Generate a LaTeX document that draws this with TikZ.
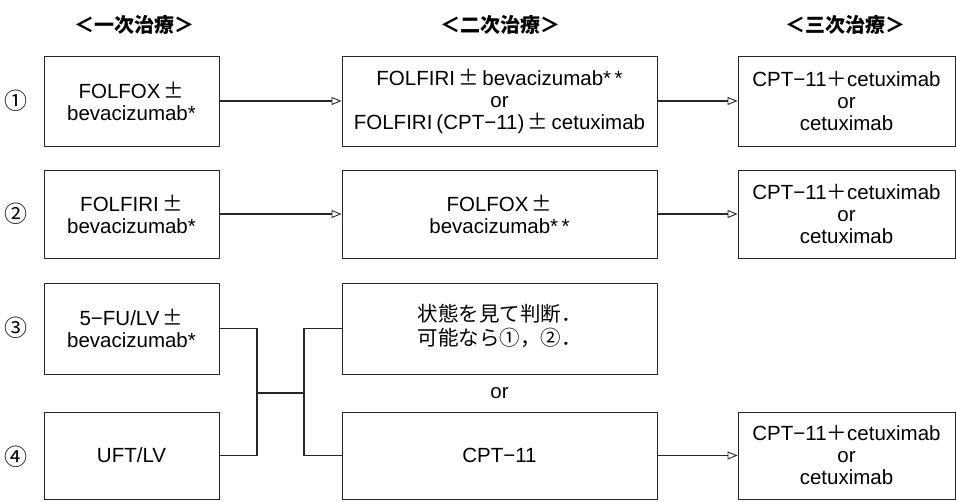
\documentclass[tikz,border=0pt]{standalone}
\usepackage{fontspec}
\setmainfont{Liberation Sans}
\newfontfamily\cjk{Noto Sans CJK JP}
\usetikzlibrary{arrows.meta}
\newcommand{\pmj}{{\cjk ±}}
\begin{document}
\begin{tikzpicture}[x=1pt,y=-1pt,
  box/.style={draw=black!85,line width=0.9pt,rectangle,inner sep=0pt,align=center,
    font=\fontsize{20.5}{22}\selectfont},
  colA/.style={box,minimum width=175pt},
  colB/.style={box,minimum width=315pt},
  colC/.style={box,minimum width=217pt},
  conn/.style={draw=black!85,line width=1.2pt},
  arr/.style={conn,-{Triangle[open,length=10pt,width=8pt,line width=0.9pt]}},
  hdr/.style={font=\cjk\bfseries\fontsize{20}{22}\selectfont},
  num/.style={font=\cjk\fontsize{23}{24}\selectfont},
  lbl/.style={font=\fontsize{20.5}{22}\selectfont}]
\useasboundingbox (0,0) rectangle (956,502);
% headers
\node[hdr] (h1) at (134,25) {＜一次治療＞};
\node[hdr] (h2) at (500,25) {＜二次治療＞};
\node[hdr] (h3) at (845,25) {＜三次治療＞};
% row numbers
\node[num] (n1) at (16,101) {①};
\node[num] (n2) at (16,214) {②};
\node[num] (n3) at (16,328) {③};
\node[num] (n4) at (16,457) {④};
% column 1
\node[colA,minimum height=90pt] (A1) at (131.5,101) {FOLFOX\,\pmj\\bevacizumab*};
\node[colA,minimum height=88pt] (A2) at (131.5,214) {FOLFIRI\,\pmj\\bevacizumab*};
\node[colA,minimum height=91pt] (A3) at (131.5,328.5) {5−FU/LV\,\pmj\\bevacizumab*};
\node[colA,minimum height=87pt] (A4) at (131.5,455.5) {UFT/LV};
% column 2
\node[colB,minimum height=90pt] (B1) at (499.5,101) {FOLFIRI\,\pmj\,bevacizumab*\,*\\or\\FOLFIRI\hspace{4pt}(CPT−11)\,\pmj\,cetuximab};
\node[colB,minimum height=88pt] (B2) at (499.5,214) {FOLFOX\,\pmj\\bevacizumab*\,*};
\node[colB,minimum height=91pt] (B3) at (499.5,328.5) {\begin{tabular}{@{}l@{}}\cjk 状態を見て判断．\\\cjk 可能なら①，②．\end{tabular}};
\node[colB,minimum height=87pt] (B4) at (499.5,455.5) {CPT−11};
\node[lbl] (or) at (499.5,393) {or};
% column 3
\node[colC,minimum height=90pt] (C1) at (846.5,101) {CPT−11{\cjk ＋}cetuximab\\or\\cetuximab};
\node[colC,minimum height=88pt] (C2) at (846.5,214) {CPT−11{\cjk ＋}cetuximab\\or\\cetuximab};
\node[colC,minimum height=87pt] (C4) at (846.5,455.5) {CPT−11{\cjk ＋}cetuximab\\or\\cetuximab};
% arrows
\draw[arr] (A1) -- (B1);
\draw[arr] (B1) -- (C1);
\draw[arr] (A2) -- (B2);
\draw[arr] (B2) -- (C2);
\draw[arr] (B4) -- (C4);
% junction
\coordinate (j1) at (257,393);
\coordinate (j2) at (304,393);
\draw[conn] (A3.east) -| (j1) |- (A4.east);
\draw[conn] (j1) -- (j2);
\draw[conn] (B3.west) -| (j2) |- (B4.west);
\end{tikzpicture}
\end{document}
